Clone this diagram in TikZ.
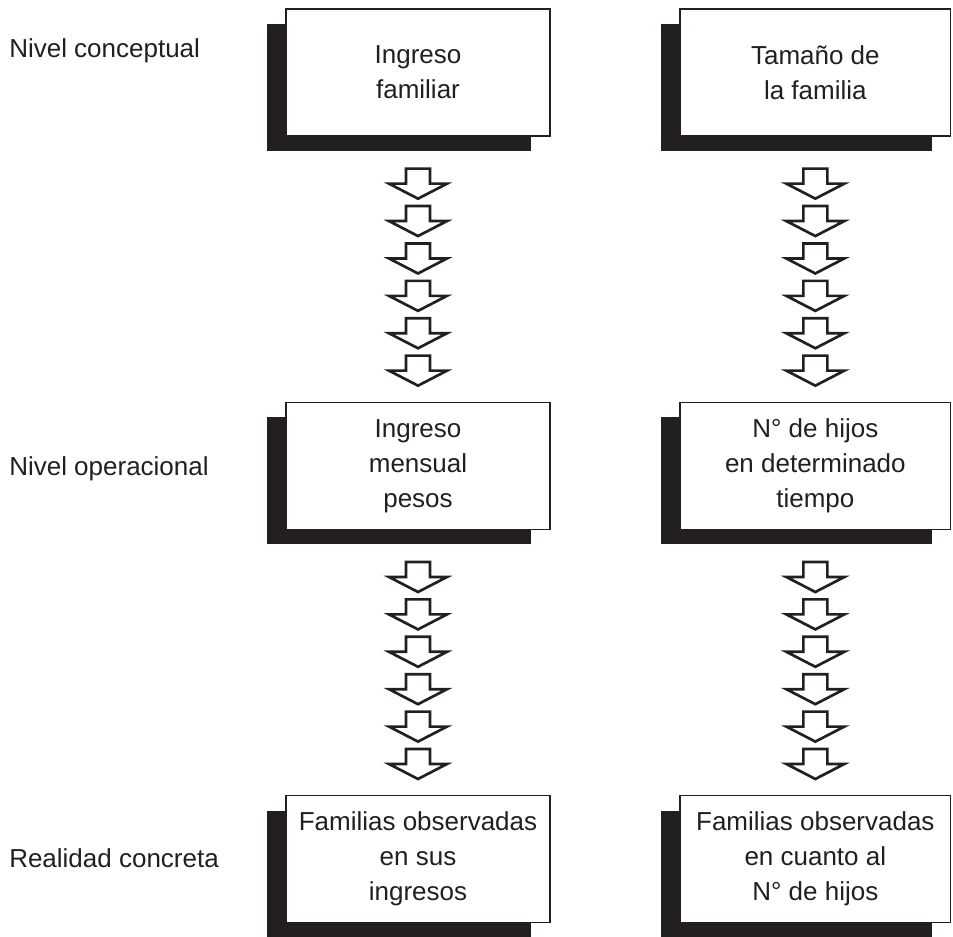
\documentclass[tikz,border=0pt]{standalone}
\usepackage{fontspec}
\setmainfont{Liberation Sans}
\usepackage{tikz}
\usetikzlibrary{shadows,calc,positioning}

\definecolor{ink}{HTML}{231F20}

\begin{document}
\begin{tikzpicture}[
    x=0.75pt, y=-0.75pt,
    node distance=295pt,
    font=\fontsize{19.5}{26.25}\selectfont,
    level/.style={rectangle, draw=ink, fill=white, line width=1pt, align=center, text=ink,
        minimum width=198pt, minimum height=95.25pt, inner sep=0pt,
        drop shadow={shadow xshift=-14.25pt, shadow yshift=-11.25pt, fill=ink, opacity=1}},
    levelname/.style={anchor=base west, inner sep=0pt, text=ink},
    downarrow/.style={draw=ink, fill=white, line width=2pt, line join=miter}
]
    \useasboundingbox (0,0) rectangle (953,937);

    % Level names
    \node[levelname] (nconc) at (9,58) {Nivel conceptual};
    \node[levelname] (noper) at (9,476) {Nivel operacional};
    \node[levelname] (nreal) at (9,867) {Realidad concreta};

    % Income column
    \node[level] (ingfam) at (418,72.5) {Ingreso\\familiar};
    \node[level, below of=ingfam] (ingmen) {Ingreso\\mensual\\pesos};
    \node[level, below of=ingmen] (famingr) {Familias observadas\\en sus\\ingresos};

    % Family size column
    \node[level, minimum width=203pt, node distance=298pt, right of=ingfam] (tamfam) {Tamaño de\\la familia};
    \node[level, minimum width=203pt, below of=tamfam] (nhijos) {N° de hijos\\en determinado\\tiempo};
    \node[level, minimum width=203pt, below of=nhijos] (famhijos) {Familias observadas\\en cuanto al\\N° de hijos};

    % Arrow chains
    \foreach \b in {ingfam, ingmen, tamfam, nhijos}
        \foreach \k in {0,...,5}
            \draw[downarrow] ($(\b.south)+(0,32+37.4*\k)$) ++(-12,0) -- ++(24,0) -- ++(0,15)
                -- ++(17,0) -- ++(-29,15) -- ++(-29,-15) -- ++(17,0) -- cycle;
\end{tikzpicture}
\end{document}
